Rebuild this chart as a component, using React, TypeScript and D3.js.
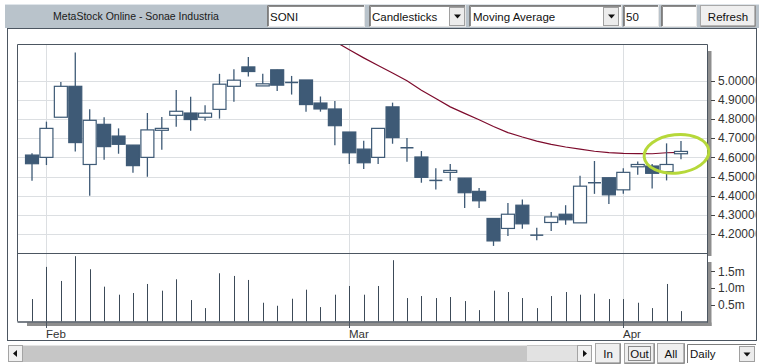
import React from "react";
import * as d3 from "d3";

// ---------- data ----------
const opens = [4.612, 4.6, 4.809, 4.97, 4.563, 4.772, 4.711, 4.664, 4.6, 4.741, 4.819, 4.831, 4.809, 4.85, 4.97, 5.071, 4.972, 5.056, 4.99, 5.003, 4.883, 4.852, 4.732, 4.643, 4.6, 4.863, 4.65, 4.602, 4.48, 4.522, 4.492, 4.423, 4.282, 4.23, 4.351, 4.195, 4.261, 4.304, 4.259, 4.468, 4.494, 4.431, 4.551, 4.555, 4.525, 4.619];
const highs = [4.621, 4.786, 4.993, 5.146, 4.85, 4.809, 4.751, 4.664, 4.831, 4.81, 4.951, 4.915, 4.871, 5.035, 5.059, 5.123, 5.035, 5.056, 5.024, 5.003, 4.917, 4.894, 4.732, 4.687, 4.751, 4.885, 4.701, 4.633, 4.544, 4.565, 4.492, 4.44, 4.282, 4.362, 4.381, 4.233, 4.315, 4.351, 4.504, 4.581, 4.494, 4.544, 4.579, 4.565, 4.673, 4.685];
const lows = [4.478, 4.56, 4.809, 4.63, 4.4, 4.588, 4.619, 4.52, 4.499, 4.64, 4.76, 4.739, 4.791, 4.802, 4.889, 5.021, 4.972, 4.946, 4.927, 4.838, 4.838, 4.663, 4.565, 4.539, 4.565, 4.671, 4.577, 4.468, 4.433, 4.478, 4.337, 4.337, 4.139, 4.191, 4.228, 4.169, 4.217, 4.249, 4.259, 4.41, 4.357, 4.41, 4.51, 4.438, 4.48, 4.59];
const closes = [4.567, 4.751, 4.97, 4.677, 4.793, 4.656, 4.668, 4.557, 4.743, 4.751, 4.84, 4.797, 4.83, 4.981, 5.002, 5.047, 4.983, 4.976, 4.99, 4.875, 4.852, 4.765, 4.624, 4.572, 4.751, 4.703, 4.65, 4.496, 4.48, 4.532, 4.416, 4.374, 4.165, 4.304, 4.254, 4.195, 4.29, 4.275, 4.45, 4.468, 4.405, 4.522, 4.563, 4.517, 4.563, 4.631];
// volume in millions
const volumes = [0.67, 1.63, 1.21, 1.95, 1.56, 1.04, 0.8, 0.85, 1.12, 0.92, 1.26, 0.64, 0.4, 1.44, 1.36, 1.24, 0.56, 0.47, 0.68, 0.95, 0.43, 0.8, 1.06, 0.8, 1.06, 1.83, 0.7, 0.76, 0.7, 0.73, 0.61, 0.34, 0.92, 0.88, 0.7, 0.4, 0.76, 0.88, 0.8, 0.83, 0.67, 0.67, 0.56, 0.4, 1.12, 0.31];
// 50-day moving average (only visible part)
const movingAvg: (number | null)[] = [null, null, null, null, null, null, null, null, null, null, null, null, null, null, null, null, null, null, null, null, null, 5.204, 5.16, 5.118, 5.078, 5.039, 4.999, 4.949, 4.906, 4.863, 4.829, 4.796, 4.761, 4.729, 4.706, 4.685, 4.668, 4.654, 4.643, 4.632, 4.625, 4.621, 4.62, 4.619, 4.624, 4.626];
const priceTicks = [5.0, 4.9, 4.8, 4.7, 4.6, 4.5, 4.4, 4.3, 4.2];
const volumeTicks = [1.5, 1.0, 0.5];
const monthLabels = ["Feb", "Mar", "Apr"];
const monthStartIndex = [1, 22, 41];

// ---------- styling ----------
const FONT = "'Liberation Sans', Arial, sans-serif";
const CANDLE = "#3e5a76";
const GRID = "#dcdfe2";
const FRAME = "#4c5661";
const SHADOW = "#8e8e8e";

const PL = 17.5, PR = 707.5, PT = 44.5, PB = 253.5, VB = 321.5;

export default function App() {
  const idx = d3.range(opens.length);
  const x = d3.scaleBand<number>().domain(idx).range([24.8, 688.2]).paddingInner(0.08).paddingOuter(0.04);
  const cx = (i: number) => (x(i) as number) + x.bandwidth() / 2;
  const y = d3.scaleLinear().domain([4.0995, 5.1877]).range([PB, PT]);
  const yv = d3.scaleLinear().domain([0, 2.03]).range([VB, PB]);

  const maLine = d3
    .line<number | null>()
    .defined((d) => d != null)
    .x((_, i) => cx(i))
    .y((d) => y(d as number));

  const inputBox = (x0: number, w: number, key: string) => (
    <g key={key}>
      <rect x={x0} y={5} width={w} height={22} fill="#fff" />
      <path d={`M${x0 + 0.5},${27} V${5.5} H${x0 + w}`} stroke="#7d7d7d" fill="none" />
      <path d={`M${x0 + 1.5},${26} V${6.5} H${x0 + w - 1}`} stroke="#404040" fill="none" strokeWidth={0.6} />
      <path d={`M${x0 + 0.5},${26.5} H${x0 + w - 0.5} V${5}`} stroke="#e6e6e6" fill="none" />
    </g>
  );
  const dropBtn = (x0: number, key: string) => (
    <g key={key}>
      <rect x={x0 + 0.5} y={7.5} width={15} height={18} fill="#ececec" stroke="#a0a0a0" />
      <path d={`M${x0 + 5},14.5 L${x0 + 12},14.5 L${x0 + 8.5},18.5 Z`} fill="#111" />
    </g>
  );
  const button = (x0: number, y0: number, w: number, h: number, label: string, key: string, focus = false) => (
    <g key={key}>
      <rect x={x0 + 0.5} y={y0 + 0.5} width={w} height={h} fill="#efefef" stroke="#a8a8a8" />
      <path d={`M${x0 + 1},${y0 + h} H${x0 + w} V${y0 + 1}`} stroke="#7a7a7a" fill="none" />
      {focus && (
        <rect x={x0 + 4.5} y={y0 + 3.5} width={w - 8} height={h - 6} fill="none" stroke="#222" strokeDasharray="1,1" />
      )}
      <text x={x0 + w / 2 + 0.5} y={y0 + h / 2 + 5} textAnchor="middle" fontSize={11.5} fill="#111" fontFamily={FONT}>
        {label}
      </text>
    </g>
  );

  return (
    <div style={{ position: "absolute", left: 0, top: 0 }}>
      <svg width={765} height={364} style={{ display: "block", background: "#fff" }} fontFamily={FONT}>
        <defs>
          <clipPath id="plotClip">
            <rect x={PL} y={PT} width={PR - PL} height={PB - PT} />
          </clipPath>
          <clipPath id="axisClip">
            <rect x={700} y={30} width={55.5} height={310} />
          </clipPath>
        </defs>

        {/* header */}
        <rect x={5} y={4} width={754} height={24} fill="#b9c3cb" />
        <line x1={5} x2={759} y1={4.5} y2={4.5} stroke="#dfe5ea" />
        <text x={136} y={20} textAnchor="middle" fontSize={10.5} fill="#1a1a1a">
          MetaStock Online - Sonae Industria
        </text>
        {inputBox(267, 98, "soni")}
        <text x={270} y={20.5} fontSize={11.5} fill="#111">SONI</text>
        {inputBox(369, 97, "cs")}
        <text x={372} y={20.5} fontSize={11.5} fill="#111">Candlesticks</text>
        {dropBtn(449, "csb")}
        {inputBox(469, 153, "ma")}
        <text x={473} y={20.5} fontSize={11.5} fill="#111">Moving Average</text>
        {dropBtn(603, "mab")}
        {inputBox(623, 36, "n")}
        <text x={626} y={20.5} fontSize={11.5} fill="#111">50</text>
        {inputBox(661, 36, "e")}
        {button(700, 5, 55, 21, "Refresh", "ref")}

        {/* main panel */}
        <rect x={7.5} y={28.5} width={749} height={312} fill="#fff" stroke={FRAME} />

        {/* shadows */}
        <rect x={708} y={51} width={3.5} height={205} fill={SHADOW} />
        <rect x={708} y={262} width={3.5} height={64} fill={SHADOW} />
        <rect x={27} y={322.5} width={684.5} height={3.5} fill={SHADOW} />

        {/* horizontal grid */}
        {priceTicks.map((t) => (
          <line key={"g" + t} x1={PL} x2={PR} y1={Math.round(y(t)) + 0.5} y2={Math.round(y(t)) + 0.5} stroke={GRID} />
        ))}
        {/* month grid */}
        {monthStartIndex.map((m, k) => {
          const mx = Math.round(cx(m)) + 0.5;
          return (
            <g key={"m" + k}>
              <line x1={mx} x2={mx} y1={PT} y2={VB} stroke={GRID} />
              <line x1={mx} x2={mx} y1={VB} y2={328} stroke={FRAME} />
              <text x={mx - 0.5} y={338} fontSize={11.5} fill="#333">
                {monthLabels[k]}
              </text>
            </g>
          );
        })}

        {/* moving average */}
        <g clipPath="url(#plotClip)">
          <path d={maLine(movingAvg) || ""} fill="none" stroke="#7d0b2c" strokeWidth={1.2} />
        </g>

        {/* candles */}
        {idx.map((i) => {
          const c = cx(i);
          const o = opens[i], cl = closes[i];
          const top = y(Math.max(o, cl));
          const bot = y(Math.min(o, cl));
          const up = cl >= o;
          const bw = 13;
          return (
            <g key={"c" + i}>
              <line x1={c} x2={c} y1={y(highs[i])} y2={y(lows[i])} stroke={CANDLE} strokeWidth={1.3} />
              {bot - top < 1 ? (
                <line x1={c - bw / 2} x2={c + bw / 2} y1={top} y2={top} stroke={CANDLE} strokeWidth={1.5} />
              ) : (
                <rect x={c - bw / 2} y={top} width={bw} height={bot - top} fill={up ? "#fff" : CANDLE} stroke={CANDLE} strokeWidth={1.2} />
              )}
            </g>
          );
        })}

        {/* volume bars */}
        {idx.map((i) => (
          <line key={"v" + i} x1={Math.round(cx(i)) + 0.5} x2={Math.round(cx(i)) + 0.5} y1={yv(volumes[i])} y2={VB} stroke="#3c4a58" />
        ))}

        {/* plot frames */}
        <path d={`M${PL},${VB} V${PT} H${PR} V${VB + 1}`} fill="none" stroke={FRAME} />
        <line x1={PL} x2={PR} y1={PB} y2={PB} stroke={FRAME} />
        <line x1={PL} x2={PR + 0.5} y1={VB + 0.5} y2={VB + 0.5} stroke={FRAME} strokeWidth={1.5} />

        {/* green highlight ellipse */}
        <ellipse cx={676.5} cy={153.8} rx={32.5} ry={19.2} fill="none" stroke="#b6d83a" strokeWidth={3} transform="rotate(-6 676.5 153.8)" />

        {/* right axes */}
        <g clipPath="url(#axisClip)">
          {priceTicks.map((t) => (
            <g key={"pt" + t}>
              <line x1={711} x2={715} y1={Math.round(y(t)) + 0.5} y2={Math.round(y(t)) + 0.5} stroke="#444" />
              <text x={718} y={y(t) + 4.3} fontSize={12} fill="#333">
                {t.toFixed(5)}
              </text>
            </g>
          ))}
          {volumeTicks.map((t) => (
            <g key={"vt" + t}>
              <line x1={711} x2={715} y1={Math.round(yv(t)) + 0.5} y2={Math.round(yv(t)) + 0.5} stroke="#444" />
              <text x={718} y={yv(t) + 4.3} fontSize={12} fill="#333">
                {t.toFixed(1) + "m"}
              </text>
            </g>
          ))}
        </g>

        {/* bottom scrollbar and controls */}
        <rect x={8} y={345} width={584} height={17} fill="#c6c6c6" />
        <rect x={527} y={346} width={50} height={15} fill="#e2e2e2" />
        <line x1={23} x2={527} y1={345.5} y2={345.5} stroke="#e4e4e4" />
        <rect x={8.5} y={345.5} width={14} height={16} fill="#f0f0f0" stroke="#a4a4a4" />
        <path d="M13,353.5 L17,350 L17,357 Z" fill="#111" />
        <rect x={577.5} y={345.5} width={14} height={16} fill="#f0f0f0" stroke="#a4a4a4" />
        <path d="M587,353.5 L583,350 L583,357 Z" fill="#111" />
        {button(595, 343, 25, 20, "In", "in")}
        {button(624, 343, 30, 20, "Out", "out", true)}
        {button(657, 343, 27, 20, "All", "all")}
        <rect x={687} y={344} width={69} height={19} fill="#fff" />
        <path d="M687.5,363 V344.5 H756" stroke="#7d7d7d" fill="none" />
        <text x={690} y={358} fontSize={11.5} fill="#111">Daily</text>
        <rect x={739.5} y={346.5} width={15} height={15} fill="#ececec" stroke="#a0a0a0" />
        <path d="M743.5,352.5 L750.5,352.5 L747,356.5 Z" fill="#111" />
      </svg>
    </div>
  );
}
